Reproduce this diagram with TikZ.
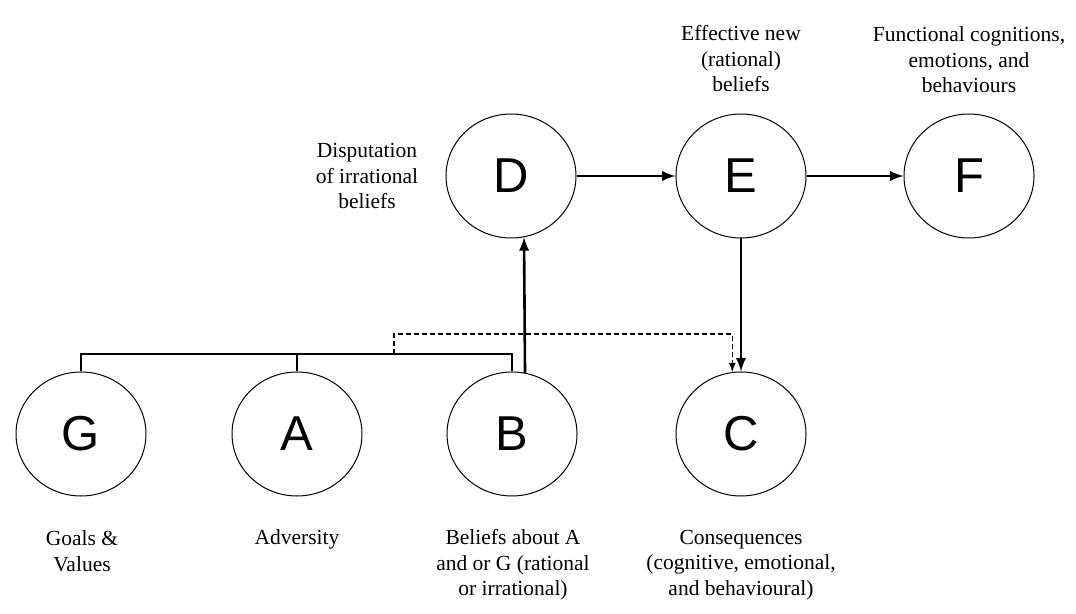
\documentclass[tikz,border=0pt]{standalone}
\usepackage{fontspec}
\setmainfont{Liberation Serif}
\newfontfamily\letterfont{Liberation Sans}
\usetikzlibrary{shapes.geometric}
\begin{document}
\begin{tikzpicture}[
  x=0.5pt, y=-0.5pt,
  circ/.style={draw,ellipse,line width=0.5pt,minimum width=65pt,minimum height=62pt,
    inner sep=0pt,font=\letterfont\fontsize{24.5}{28}\selectfont},
  lbl/.style={align=center,inner sep=0pt,font=\fontsize{10.75}{12.75}\selectfont},
  thk/.style={line width=1.3pt,-latex},
  conn/.style={line width=0.7pt},
  dsh/.style={line width=0.6pt,dash pattern=on 2.5pt off 1.5pt,-latex},
]
  \useasboundingbox (0,0) rectangle (1076,614);

  \node[circ] (G) at (81,434) {G};
  \node[circ] (A) at (297,434) {A};
  \node[circ] (B) at (512,434) {B};
  \node[circ] (C) at (741,434) {C};
  \node[circ] (D) at (511,176) {D};
  \node[circ] (E) at (741,176) {E};
  \node[circ] (F) at (969,176) {F};

  \node[lbl] (lD) at (367,176) {Disputation\\of irrational\\beliefs};
  \node[lbl] (lE) at (741,59) {Effective new\\(rational)\\beliefs};
  \node[lbl] (lF) at (969,60) {Functional cognitions,\\emotions, and\\behaviours};
  \node[lbl] (lG) at (82,551) {Goals \&\\Values};
  \node[lbl] (lA) at (297,539) {Adversity};
  \node[lbl] (lB) at (513,565) {Beliefs about A\\and or G (rational\\or irrational)};
  \node[lbl] (lC) at (741,565) {Consequences\\(cognitive, emotional,\\and behavioural)};

  \coordinate (bar) at (0,354);
  \coordinate (dstart) at (394,354);
  \coordinate (dup) at (394,334);

  \draw[conn] (G.north) |- (bar -| B.north) -- (B.north);
  \draw[conn] (A.north) -- (A.north |- bar);
  \draw[dsh] (dstart) -- (dup) -| (C.98);

  \draw[thk] (B.78) -- (D.-78);
  \draw[thk] (D) -- (E);
  \draw[thk] (E) -- (F);
  \draw[thk] (E) -- (C);
\end{tikzpicture}
\end{document}
